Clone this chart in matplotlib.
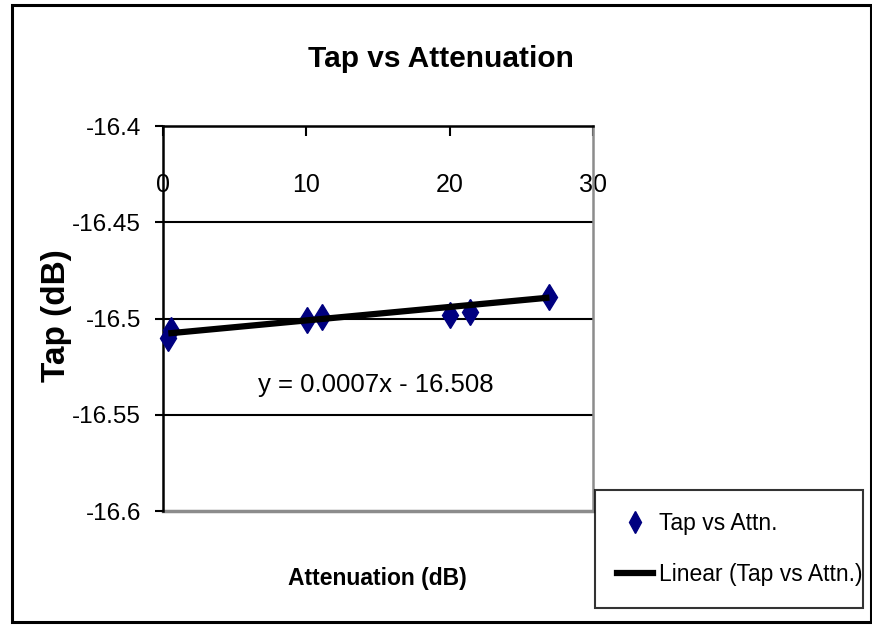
import numpy as np
import matplotlib
matplotlib.use('Agg')
import matplotlib.pyplot as plt
from matplotlib.lines import Line2D
from matplotlib.patches import Rectangle

# data
attn = [0.37, 0.56, 10.07, 11.07, 20.0, 21.4, 26.96]
tap = [-16.5103, -16.5062, -16.5010, -16.4991, -16.4982, -16.4964, -16.4888]
trend_slope = 0.0007
trend_intercept = -16.508
x_ticks = [0, 10, 20, 30]
x_labels = ['0', '10', '20', '30']
y_ticks = [-16.4, -16.45, -16.5, -16.55, -16.6]
y_labels = ['-16.4', '-16.45', '-16.5', '-16.55', '-16.6']

plt.rcParams['font.family'] = ['Liberation Sans', 'DejaVu Sans']

W, H = 872, 625
fig = plt.figure(figsize=(W / 100, H / 100), dpi=100)

# outer chart border
fig.patches.append(Rectangle((12 / W, 1 - 622 / H), 859 / W, 617 / H,
                             transform=fig.transFigure, fill=False,
                             edgecolor='black', linewidth=2.2))

ax = fig.add_axes([163 / W, 1 - 511 / H, 430 / W, 385 / H])
ax.set_xlim(0, 30)
ax.set_ylim(-16.6, -16.4)

# horizontal grid
for yv in y_ticks[1:-1]:
    ax.axhline(yv, color='black', linewidth=1.5, zorder=1)

# x axis sits at the top (y = -16.4)
ax.spines['bottom'].set_position(('data', -16.4))
ax.spines['bottom'].set_linewidth(1.8)
ax.spines['top'].set_visible(False)
ax.spines['left'].set_linewidth(1.8)
ax.spines['right'].set_color('#8c8c8c')
ax.spines['right'].set_linewidth(1.8)
ax.plot([0, 1], [0, 0], transform=ax.transAxes, color='#8c8c8c',
        linewidth=2.5, clip_on=False, zorder=1)

ax.set_xticks(x_ticks)
ax.set_xticklabels(x_labels)
ax.set_yticks(y_ticks)
ax.set_yticklabels(y_labels)
ax.tick_params(axis='x', direction='out', length=7, width=1.5, pad=27,
               labelsize=18)
ax.tick_params(axis='y', direction='out', length=6, width=1.5, pad=10,
               labelsize=17.5)

ax.plot(attn, tap, linestyle='none', marker='d', markersize=13,
        color='#000080', zorder=3, clip_on=False)

tx = np.array([min(attn), max(attn)])
ax.plot(tx, trend_slope * tx + trend_intercept, color='black',
        linewidth=4.5, solid_capstyle='butt', zorder=4)

fig.text(441 / W, 1 - 67 / H, 'Tap vs Attenuation', ha='center',
         va='baseline', fontsize=21.5, fontweight='bold')
fig.text(377 / W, 1 - 585 / H, 'Attenuation (dB)', ha='center',
         va='baseline', fontsize=16.5, fontweight='bold')
fig.text(57 / W, 1 - 316 / H, 'Tap (dB)', ha='center', va='center',
         rotation=90, fontsize=24, fontweight='bold')
fig.text(376 / W, 1 - 392 / H, 'y = 0.0007x - 16.508', ha='center',
         va='baseline', fontsize=18.5)

handles = [Line2D([], [], linestyle='none', marker='d', markersize=11,
                  color='#000080'),
           Line2D([], [], color='black', linewidth=4.5)]
leg = fig.legend(handles, ['Tap vs Attn.', 'Linear (Tap vs Attn.)'],
                 loc='lower left',
                 bbox_to_anchor=(595 / W, 1 - 608 / H, 268 / W, 120 / H),
                 mode='expand', fontsize=16.5, frameon=True, fancybox=False,
                 borderpad=0.95, handlelength=1.6, handletextpad=0.25,
                 labelspacing=1.25, borderaxespad=0)
leg.get_frame().set_edgecolor('black')
leg.get_frame().set_linewidth(1.5)

fig.savefig('out.png', dpi=100)
